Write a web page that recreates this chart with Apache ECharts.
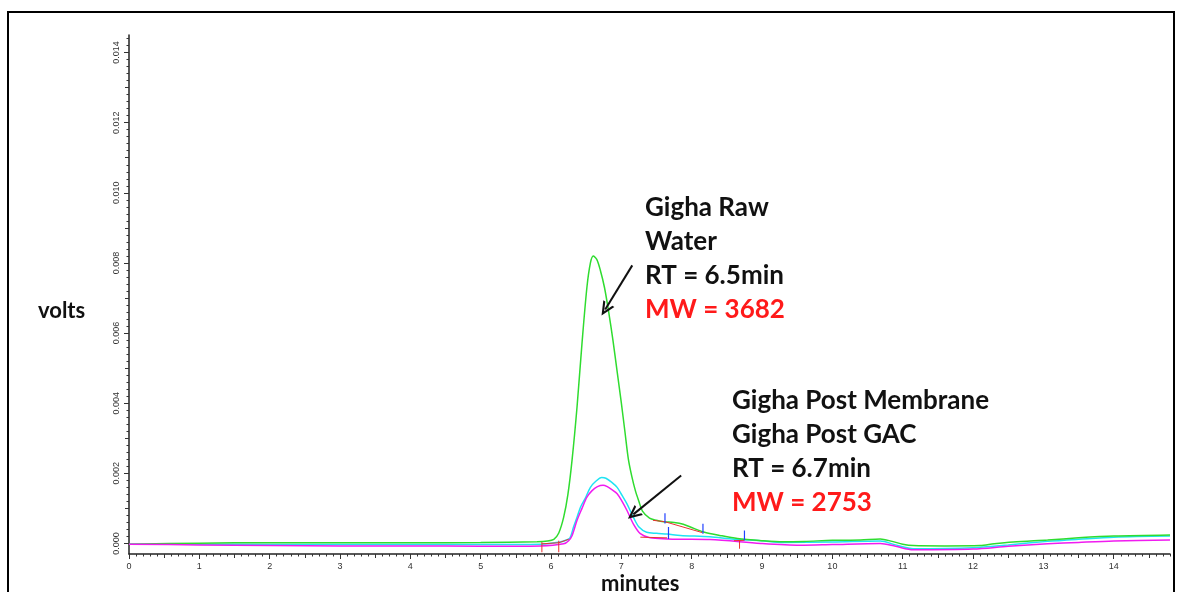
<!DOCTYPE html>
<html>
<head>
<meta charset="utf-8">
<script src="https://cdn.jsdelivr.net/npm/echarts@6/dist/echarts.min.js"></script>
<style>
html,body{margin:0;padding:0;background:#fff;}
#chart{width:1177px;height:592px;}
</style>
</head>
<body>
<div id="chart"></div>
<script>
// ---- data (minutes, volts) ----
const rawWater = [[0,-0.00002],[1,0.00001],[2,0.00002],[3,0.00002],[4,0.00002],[5,0.00003],[5.8,0.00005],[5.95,0.00007],[6.04,0.00012],[6.11,0.0003],[6.18,0.00075],[6.24,0.0014],[6.30,0.0024],[6.37,0.0039],[6.44,0.0057],[6.51,0.0073],[6.56,0.0080],[6.60,0.0082],[6.65,0.0081],[6.70,0.0078],[6.76,0.0073],[6.82,0.0066],[6.88,0.0058],[6.94,0.0049],[7.00,0.0040],[7.05,0.0032],[7.10,0.0024],[7.15,0.0019],[7.20,0.0015],[7.25,0.0012],[7.30,0.00092],[7.40,0.00072],[7.5,0.00066],[7.6,0.00062],[7.75,0.0006],[7.88,0.00055],[8.03,0.00043],[8.17,0.00033],[8.4,0.00023],[8.65,0.00014],[9.0,0.00008],[9.3,0.00005],[9.6,0.00006],[10.0,0.00009],[10.4,0.0001],[10.68,0.00013],[10.85,0.00006],[11.0,-0.00002],[11.15,-0.00006],[11.6,-0.00007],[12.1,-0.00006],[12.3,-0.00001],[12.57,0.00004],[13.06,0.0001],[13.5,0.00016],[14.0,0.00021],[14.8,0.00024]];
const postMembrane = [[0,-0.00002],[1,-0.00002],[2,-0.00003],[3,-0.00003],[4,-0.00003],[5,-0.00003],[5.85,-0.00002],[6.13,0.00004],[6.22,0.0001],[6.27,0.00016],[6.32,0.00047],[6.37,0.00075],[6.42,0.00104],[6.49,0.0013],[6.56,0.0016],[6.64,0.00178],[6.72,0.00188],[6.78,0.00186],[6.86,0.00175],[6.94,0.0016],[7.01,0.00137],[7.08,0.00113],[7.17,0.00075],[7.25,0.00047],[7.36,0.00032],[7.5,0.00029],[7.65,0.00027],[7.84,0.00023],[8.26,0.00019],[8.6,0.00012],[8.98,0.00008],[9.3,0.00003],[10.0,0.00004],[10.68,0.00007],[10.9,-0.00004],[11.15,-0.00015],[12.0,-0.00012],[12.5,-0.00004],[13.06,0.00006],[13.5,0.00012],[14.0,0.00018],[14.8,0.00021]];
const postGAC = [[0,-0.00002],[1,-0.00004],[2,-0.00006],[3,-0.00007],[4,-0.00007],[5,-0.00008],[5.85,-0.00007],[6.18,-0.00001],[6.25,0.00008],[6.30,0.00023],[6.37,0.00066],[6.44,0.001],[6.51,0.00132],[6.58,0.0015],[6.66,0.00162],[6.74,0.00166],[6.80,0.00162],[6.87,0.00153],[6.94,0.00142],[7.01,0.0012],[7.08,0.00094],[7.17,0.00056],[7.27,0.00028],[7.41,0.00016],[7.65,0.00013],[7.84,0.00012],[8.26,0.00011],[8.98,0.0],[9.54,-0.00005],[10.0,-0.00003],[10.68,0.0],[10.9,-0.00008],[11.15,-0.00018],[12.0,-0.00016],[12.5,-0.00008],[13.06,-0.00001],[13.5,0.00003],[14.0,0.00007],[14.8,0.0001]];
// integration markers: [minute, yTop, yBottom]
const blueTicks = [[7.62,0.00086,0.00057],[7.67,0.00047,0.00013],[8.16,0.00056,0.00028],[8.75,0.00037,0.00009]];
const redTicks = [[5.87,0.00004,-0.00025],[6.11,0.00008,-0.00025],[8.68,0.00009,-0.00015]];
const redBaselines = [
  [[5.87,-0.00001],[6.11,0.00002],[6.25,0.00012]],
  [[7.27,0.00018],[7.65,0.00016]],
  [[7.45,0.00066],[7.62,0.00062],[8.15,0.00031]],
  [[8.6,0.00008],[8.75,0.00009]]
];
// tick labels
const xTicks = [0,1,2,3,4,5,6,7,8,9,10,11,12,13,14];
const yTicks = [0,0.002,0.004,0.006,0.008,0.010,0.012,0.014];
// annotations
const arrows = [[[7.155,0.00793],[6.77,0.00667]],[[7.85,0.00194],[7.17,0.00083]]];
const note1 = ['Gigha Raw','Water','RT = 6.5min','MW = 3682'];
const note2 = ['Gigha Post Membrane','Gigha Post GAC','RT = 6.7min','MW = 2753'];

const X_MIN = 0, X_MAX = 14.8, Y_MIN = -0.0003, Y_MAX = 0.0145;

function range(a, b, step) { const r = []; for (let i = 0; a + i*step <= b + 1e-12; i++) r.push(+(a + i*step).toFixed(6)); return r; }
const xMid = range(0.5, 14.5, 1);
const xMinor = range(0, 14.8, 0.1);
const yMid = range(0.001, 0.0145, 0.002);
const yMinor = range(0, 0.0145, 0.0002);

function segs(list) {
  const out = [];
  list.forEach(s => { s.forEach(p => out.push(p)); out.push([null, null]); });
  return out;
}
const blueSeg = segs(blueTicks.map(t => [[t[0], t[1]], [t[0], t[2]]]));
const redSeg = segs(redTicks.map(t => [[t[0], t[1]], [t[0], t[2]]]).concat(redBaselines));

const fontLab = 'Liberation Sans';
function xAx(vals, len, labels) {
  return {
    type: 'value', min: X_MIN, max: X_MAX, position: 'bottom',
    axisLine: { show: labels, onZero: false, lineStyle: { color: '#222', width: 1.5 } },
    axisTick: { show: true, inside: false, length: len, customValues: vals, lineStyle: { color: '#333', width: 1 } },
    axisLabel: labels ? { show: true, customValues: xTicks, margin: 8, color: '#333', fontSize: 9, fontFamily: fontLab } : { show: false },
    splitLine: { show: false }
  };
}
function yAx(vals, len, labels) {
  return {
    type: 'value', min: Y_MIN, max: Y_MAX, position: 'left',
    axisLine: { show: labels, onZero: false, lineStyle: { color: '#222', width: 1.5 } },
    axisTick: { show: true, inside: false, length: len, customValues: vals, lineStyle: { color: '#333', width: 1 } },
    axisLabel: labels ? { show: true, customValues: yTicks, rotate: 90, margin: 8, color: '#333', fontSize: 9, fontFamily: fontLab,
      formatter: v => v.toFixed(3) } : { show: false },
    splitLine: { show: false }
  };
}

const chart = echarts.init(document.getElementById('chart'), null, { renderer: 'canvas' });
const annFont = 'Lato';
function noteTexts(lines, x, y0) {
  return lines.map((t, i) => ({
    type: 'text', left: x, top: y0 + i*34 - 17,
    style: { text: t, font: '700 26px ' + annFont, fill: i === 3 ? '#ff1a1a' : '#111' }
  }));
}
const arrowSym = 'path://M5,0 L10,10 L8.2,10 L5,3.6 L1.8,10 L0,10 Z';

chart.setOption({
  animation: false,
  backgroundColor: '#fff',
  grid: { left: 129, right: 7, top: 35, bottom: 38, containLabel: false },
  xAxis: [xAx(xTicks, 5, true), xAx(xMid, 4, false), xAx(xMinor, 2.5, false)],
  yAxis: [yAx(yTicks, 5, true), yAx(yMid, 4, false), yAx(yMinor, 2.5, false)],
  series: [
    { name: 'Gigha Raw Water', type: 'line', data: rawWater, showSymbol: false, smooth: 0.3,
      lineStyle: { color: '#2fdc2f', width: 1.5 }, z: 3,
      markLine: { silent: true, symbol: ['none', arrowSym], symbolSize: [13, 14],
        lineStyle: { color: '#111', width: 2, type: 'solid' }, label: { show: false },
        data: arrows.map(a => [{ coord: a[0] }, { coord: a[1] }]) } },
    { name: 'Gigha Post Membrane', type: 'line', data: postMembrane, showSymbol: false, smooth: 0.3,
      lineStyle: { color: '#1fe3f3', width: 1.5 }, z: 2 },
    { name: 'Gigha Post GAC', type: 'line', data: postGAC, showSymbol: false, smooth: 0.3,
      lineStyle: { color: '#f01cf0', width: 1.5 }, z: 4 },
    { name: 'baseline', type: 'line', data: redSeg, showSymbol: false, connectNulls: false,
      lineStyle: { color: '#e83030', width: 1 }, z: 5 },
    { name: 'marks', type: 'line', data: blueSeg, showSymbol: false, connectNulls: false,
      lineStyle: { color: '#2040ff', width: 1.2 }, z: 6 }
  ],
  graphic: [
    { type: 'rect', shape: { x: 8, y: 12, width: 1166, height: 600 }, style: { fill: 'none', stroke: '#000', lineWidth: 2 }, silent: true },
    { type: 'text', left: 38, top: 300, style: { text: 'volts', font: '700 22px ' + annFont, fill: '#111' } },
    { type: 'text', left: 601, top: 573, style: { text: 'minutes', font: '700 22px ' + annFont, fill: '#111' } }
  ].concat(noteTexts(note1, 645, 212)).concat(noteTexts(note2, 732, 405))
});
</script>
</body>
</html>
